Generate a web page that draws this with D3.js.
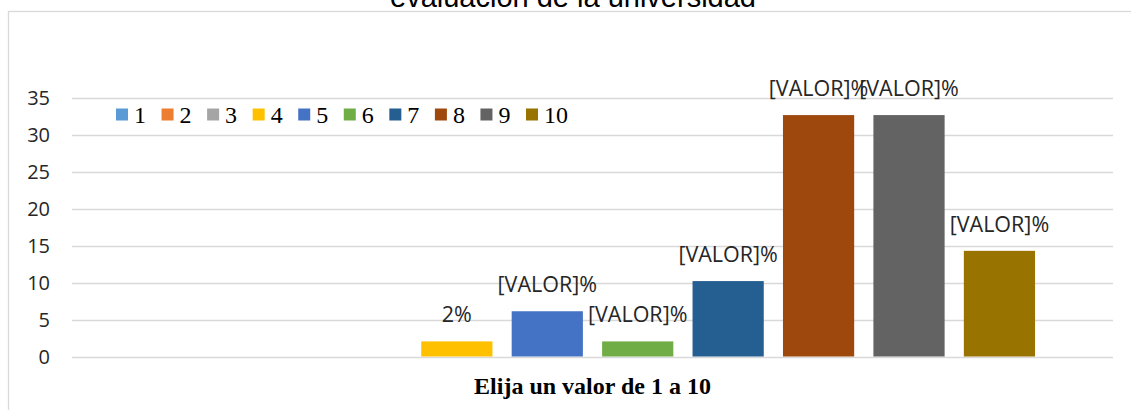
<!DOCTYPE html>
<html>
<head>
<meta charset="utf-8">
<script src="https://cdn.jsdelivr.net/npm/d3@7"></script>
<style>
  html, body { margin: 0; padding: 0; background: #fff; }
  svg { display: block; }
</style>
</head>
<body>
<svg id="chart" width="1131" height="410"></svg>
<script>
// ---- data ----
const title = "evaluación de la universidad";
const category = ["Elija un valor de 1 a 10"];
const series = ["1", "2", "3", "4", "5", "6", "7", "8", "9", "10"];
const values = [0, 0, 0, 2.04, 6.12, 2.04, 10.2, 32.65, 32.65, 14.29];
const dataLabels = ["", "", "", "2%", "[VALOR]%", "[VALOR]%", "[VALOR]%", "[VALOR]%", "[VALOR]%", "[VALOR]%"];
const colors = ["#5B9BD5", "#ED7D31", "#A5A5A5", "#FFC000", "#4472C4", "#70AD47", "#255E91", "#9E480E", "#636363", "#997300"];
const yTicks = [0, 5, 10, 15, 20, 25, 30, 35];

const svg = d3.select("#chart");

// outer chart border (cropped by the image edges)
svg.append("rect")
  .attr("x", 8.5).attr("y", 11.5)
  .attr("width", 1200).attr("height", 500)
  .attr("fill", "#fff").attr("stroke", "#d9d9d9").attr("stroke-width", 1.3);

// title (cropped at the top, as in the reference)
svg.append("text")
  .attr("x", 573).attr("y", 7)
  .attr("text-anchor", "middle")
  .attr("font-family", "Liberation Sans, Arial, sans-serif")
  .attr("font-size", 29)
  .attr("fill", "#000")
  .text(title);

const plot = { left: 72, right: 1113, top: 97.7, bottom: 356.5 };

const y = d3.scaleLinear().domain([0, 35]).range([plot.bottom, plot.top]);

const x0 = d3.scaleBand().domain(category).range([plot.left, plot.right]).padding(0);
const x1 = d3.scaleBand().domain(series)
  .range([0, x0.bandwidth()])
  .paddingInner(0.2126)
  .paddingOuter(0.862);

// gridlines
svg.append("g")
  .selectAll("line")
  .data(yTicks)
  .join("line")
  .attr("x1", plot.left).attr("x2", plot.right)
  .attr("y1", d => Math.round(y(d)) + 0.5).attr("y2", d => Math.round(y(d)) + 0.5)
  .attr("stroke", "#d9d9d9").attr("stroke-width", 1.3);

// y axis labels
const yAxis = d3.axisLeft(y).tickValues(yTicks).tickSize(0).tickPadding(0);
const gy = svg.append("g").attr("transform", "translate(50,0)").call(yAxis);
gy.select(".domain").remove();
gy.selectAll("text")
  .attr("font-family", "Open Sans, sans-serif")
  .attr("font-size", 20)
  .attr("fill", "#262626")
  .attr("dy", "0.35em");

// bars
const g = svg.append("g").attr("transform", `translate(${x0(category[0])},0)`);
const data = series.map((s, i) => ({ s, v: values[i], c: colors[i], label: dataLabels[i] }));

g.selectAll("rect.bar")
  .data(data)
  .join("rect")
  .attr("class", "bar")
  .attr("x", d => x1(d.s))
  .attr("width", x1.bandwidth())
  .attr("y", d => y(d.v))
  .attr("height", d => y(0) - y(d.v))
  .attr("fill", d => d.c);

// data labels
g.selectAll("text.lbl")
  .data(data.filter(d => d.label !== ""))
  .join("text")
  .attr("class", "lbl")
  .attr("x", d => x1(d.s) + x1.bandwidth() / 2)
  .attr("y", d => y(d.v) - 19)
  .attr("text-anchor", "middle")
  .attr("font-family", "Open Sans, sans-serif")
  .attr("font-size", 21.5)
  .attr("fill", "#262626")
  .text(d => d.label);

// category axis label
const xAxis = d3.axisBottom(x0).tickSize(0).tickPadding(0);
const gx = svg.append("g").attr("transform", "translate(0,394)").call(xAxis);
gx.select(".domain").remove();
gx.selectAll("text")
  .attr("dy", 0)
  .attr("font-family", "Liberation Serif, Times New Roman, serif")
  .attr("font-weight", "bold")
  .attr("font-size", 24)
  .attr("fill", "#000");

// legend
const legendX = d3.scalePoint().domain(series).range([116, 526]);
const lg = svg.append("g");
const items = lg.selectAll("g").data(data).join("g")
  .attr("transform", d => `translate(${legendX(d.s)},0)`);
items.append("rect")
  .attr("x", 0).attr("y", 108.5)
  .attr("width", 12).attr("height", 12)
  .attr("fill", d => d.c);
items.append("text")
  .attr("x", 18).attr("y", 122.5)
  .attr("font-family", "Liberation Serif, Times New Roman, serif")
  .attr("font-size", 24)
  .attr("fill", "#000")
  .text(d => d.s);
</script>
</body>
</html>
